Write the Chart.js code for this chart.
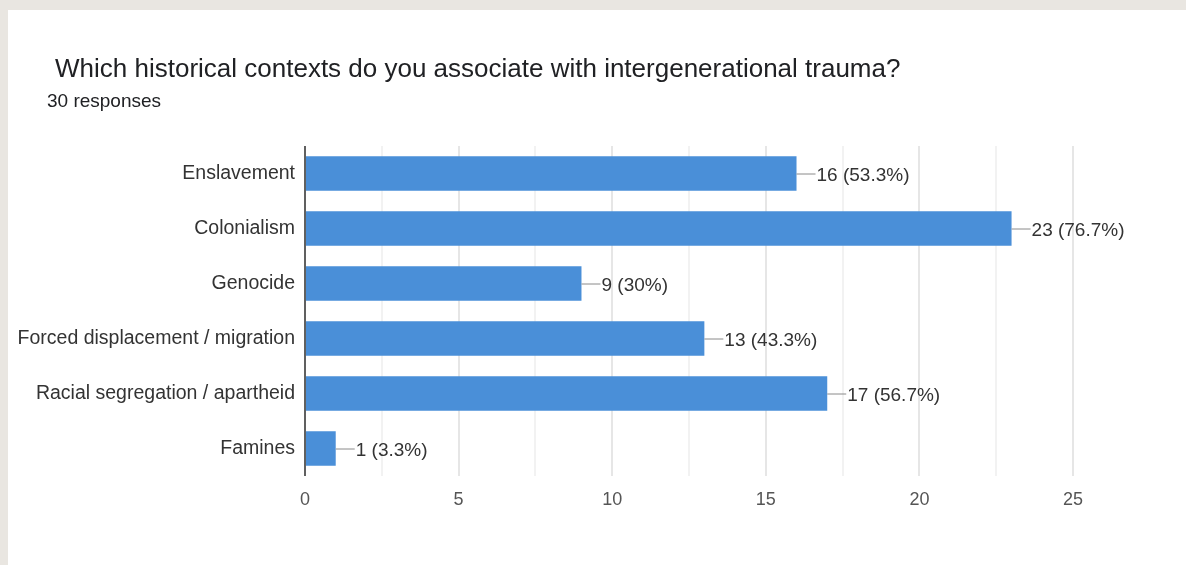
<!DOCTYPE html>
<html>
<head>
<meta charset="utf-8">
<script src="https://cdn.jsdelivr.net/npm/chart.js@4.4.1/dist/chart.umd.min.js"></script>
<style>
  html, body { margin: 0; padding: 0; background: #e9e6e1; }
  body { width: 1186px; height: 565px; position: relative; overflow: hidden; font-family: "Liberation Sans", Arial, sans-serif; }
  #card { position: absolute; left: 8px; top: 10px; width: 1178px; height: 555px; background: #fff; }
  #titulo { position: absolute; left: 47px; top: 43px; font-size: 26px; line-height: 30px; color: #202124; white-space: nowrap; }
  #respuestas { position: absolute; left: 39px; top: 80px; font-size: 19px; line-height: 22px; color: #202124; }
  #grafico { position: absolute; left: 0; top: 0; }
</style>
</head>
<body>
<div id="card">
  <canvas id="grafico" width="1178" height="555"></canvas>
  <div id="titulo">Which historical contexts do you associate with intergenerational trauma?</div>
  <div id="respuestas">30 responses</div>
</div>
<script>
// ---- datos ----
const categorias = [
  "Enslavement",
  "Colonialism",
  "Genocide",
  "Forced displacement / migration",
  "Racial segregation / apartheid",
  "Famines"
];
const respuestas = [16, 23, 9, 13, 17, 1];
const totalRespuestas = 30;
const ticksX = [0, 5, 10, 15, 20, 25];

const COLOR_BARRA = "#4a8fd8";
const FUENTE = "'Liberation Sans', Arial, sans-serif";

// etiqueta "16 (53.3%)"
function textoValor(v) {
  const pct = Math.round(v / totalRespuestas * 1000) / 10;
  return v + " (" + pct + "%)";
}

// dibuja la línea guía y el valor al final de cada barra
const etiquetasBarras = {
  id: "etiquetasBarras",
  afterDatasetsDraw(chart) {
    const ctx = chart.ctx;
    const meta = chart.getDatasetMeta(0);
    ctx.save();
    ctx.font = "19px " + FUENTE;
    ctx.textBaseline = "middle";
    ctx.textAlign = "left";
    meta.data.forEach((bar, i) => {
      const x = bar.x, y = bar.y;
      ctx.strokeStyle = "#8a8a8a";
      ctx.lineWidth = 1;
      ctx.beginPath();
      ctx.moveTo(x, y + 0.5);
      ctx.lineTo(x + 19, y + 0.5);
      ctx.stroke();
      ctx.fillStyle = "#333333";
      ctx.fillText(textoValor(respuestas[i]), x + 20, y + 2);
    });
    ctx.restore();
  }
};

// eje vertical oscuro a la izquierda del área
const bordesArea = {
  id: "bordesArea",
  afterDatasetsDraw(chart) {
    const { ctx, chartArea: a } = chart;
    ctx.save();
    ctx.strokeStyle = "#333333";
    ctx.lineWidth = 1.5;
    ctx.beginPath();
    ctx.moveTo(a.left, a.top);
    ctx.lineTo(a.left, a.bottom);
    ctx.stroke();
    ctx.restore();
  }
};

new Chart(document.getElementById("grafico"), {
  type: "bar",
  data: {
    labels: categorias,
    datasets: [{
      data: respuestas,
      backgroundColor: COLOR_BARRA,
      borderWidth: 0,
      categoryPercentage: 1,
      barPercentage: 0.63
    }]
  },
  plugins: [etiquetasBarras, bordesArea],
  options: {
    indexAxis: "y",
    responsive: false,
    animation: false,
    layout: { padding: { left: 0, top: 136, right: 113, bottom: 0 } },
    plugins: {
      legend: { display: false },
      tooltip: { enabled: false }
    },
    scales: {
      x: {
        min: 0,
        max: 25,
        afterBuildTicks: (eje) => {
          const t = [];
          for (let v = 0; v <= 25; v += 2.5) t.push({ value: v });
          eje.ticks = t;
        },
        afterFit: (eje) => { eje.height = 89; },
        border: { display: false },
        grid: {
          drawTicks: false,
          color: (c) => (ticksX.includes(c.tick.value) ? "#e6e6e6" : "#f2f2f2"),
          lineWidth: 2
        },
        ticks: {
          autoSkip: false,
          maxRotation: 0,
          padding: 13,
          color: "#555555",
          font: { family: FUENTE, size: 18 },
          callback: (v) => (ticksX.includes(v) ? String(v) : "")
        }
      },
      y: {
        afterFit: (eje) => { eje.width = 297; },
        border: { display: false },
        grid: { display: false, drawTicks: false },
        ticks: {
          padding: 10,
          color: "#333333",
          font: { family: FUENTE, size: 19.5 }
        }
      }
    }
  }
});
</script>
</body>
</html>
